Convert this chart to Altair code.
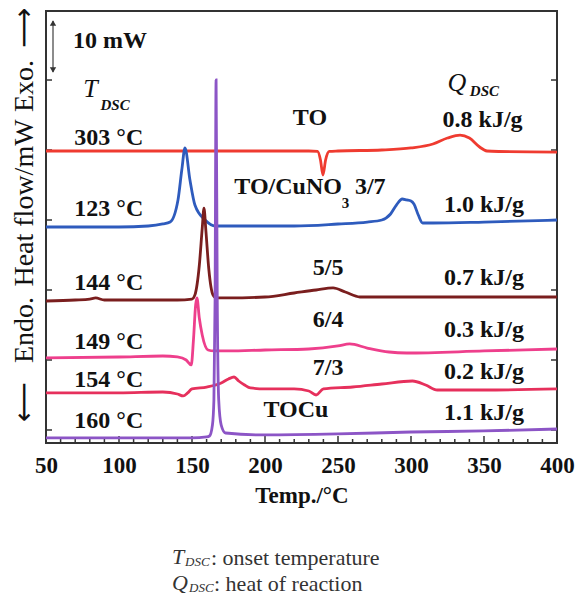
import altair as alt
import pandas as pd

# ---------------- data ----------------
to_T = [50, 100, 150, 200, 230, 236, 238, 239.7, 241.5, 244, 250, 280, 300, 315, 325, 333.6, 340, 347, 352, 360, 400]
to_v = [39.86, 39.86, 39.86, 39.86, 39.86, 39.79, 38.57, 36.43, 38.57, 39.79, 39.86, 40, 40.29, 40.86, 41.71, 42.14, 41.71, 40.43, 39.86, 39.79, 39.71]

b37_T = [50, 100, 120, 130, 135, 140.4, 143, 145.2, 148.6, 152, 159, 166, 180, 220, 250, 270, 280, 286, 290, 294, 297, 300, 302, 305, 308, 315, 350, 400]
b37_v = [29, 29, 29.14, 29.43, 29.71, 32.86, 37.14, 40.29, 35.71, 32.14, 30, 29.14, 29.14, 29.14, 29.43, 29.71, 30, 30.86, 32.14, 33, 32.86, 32.71, 32.29, 30.71, 29.57, 29.57, 29.71, 30]

b55_T = [50, 70, 80, 84, 90, 110, 140, 150, 152, 155, 157, 158.2, 159.5, 161.5, 164.4, 167, 175, 200, 220, 235, 246.6, 255, 265, 300, 350, 400]
b55_v = [18.43, 18.57, 18.71, 18.86, 18.57, 18.57, 18.57, 18.71, 19.3, 23.5, 28.8, 31.71, 28.5, 23.0, 19.3, 18.86, 18.86, 19, 19.57, 20, 20.29, 19.71, 19, 19, 19, 19]

b64_T = [50, 100, 130, 140, 146, 149.5, 151, 152.5, 153.4, 155, 157, 161, 165, 175, 200, 230, 250, 258, 270, 285, 297, 350, 400]
b64_v = [10.29, 10.43, 10.57, 10.43, 10, 9.29, 12.86, 17.86, 18.86, 16.0, 13.57, 11.43, 11.29, 11.29, 11.43, 11.57, 12, 12.29, 11.71, 11.14, 11, 11.29, 11.57]

b73_T = [50, 100, 130, 140, 144, 147, 150, 160, 170, 175, 178.8, 182, 186, 190, 200, 220, 230, 235, 240, 260, 280, 301, 310, 318, 350, 400]
b73_v = [5.29, 5.29, 5.43, 5.14, 4.86, 5.29, 5.86, 6.14, 6.71, 7.29, 7.57, 7, 6.43, 6, 5.86, 5.86, 5.57, 5, 5.86, 6.14, 6.57, 7, 6.43, 5.71, 5.71, 5.86]

tocu_T = [50, 100, 150, 160, 162, 164, 165, 165.8, 166.5, 167.3, 168.3, 170, 173, 200, 250, 300, 350, 400]
tocu_v = [-1.14, -1.14, -1.14, -1.0, -0.86, 0.71, 4.29, 18.57, 50, 18.57, 4.29, 0.71, -0.43, -0.71, -0.57, -0.29, -0.14, 0.14]

series_names = ["TO", "3/7", "5/5", "6/4", "7/3", "TOCu"]
series_colors = ["#ef3b30", "#2e5bbd", "#7a1e1e", "#ee3f8c", "#e6305c", "#8c55c6"]

# labels (main bold text)
lab_text = ["303 °C", "123 °C", "144 °C", "149 °C", "154 °C", "160 °C",
            "TO", "0.8 kJ/g", "1.0 kJ/g", "5/5", "0.7 kJ/g", "6/4", "0.3 kJ/g",
            "7/3", "0.2 kJ/g", "TOCu", "1.1 kJ/g"]
lab_T = [93, 93, 93, 93, 93, 93,
         230.8, 349, 350, 243.2, 350, 243.2, 350,
         243.2, 350, 221.2, 350]
lab_v = [41.7, 31.57, 21.0, 12.57, 7.14, 1.29,
         44.57, 44.29, 32.14, 23.14, 21.71, 15.71, 14.29,
         8.86, 8.29, 2.86, 2.43]

left_text = ["10 mW", "3/7"]
left_T = [68.5, 261.6]
left_v = [55.57, 34.71]

right_text = ["TO/CuNO"]
right_T = [252.7]
right_v = [34.71]

sub_text = ["3"]
sub_T = [255.2]
sub_v = [32.43]

# italic symbols T_DSC, Q_DSC
sym_text = ["T", "Q"]
sym_T = [80.5, 331.5]
sym_v = [48.7, 49.6]
symsub_text = ["DSC", "DSC"]
symsub_T = [97.3, 350.3]
symsub_v = [46.4, 48.4]

x_major = [50, 100, 150, 200, 250, 300, 350, 400]
x_minor = [60, 70, 80, 90, 110, 120, 130, 140, 160, 170, 180, 190, 210, 220, 230, 240,
           260, 270, 280, 290, 310, 320, 330, 340, 360, 370, 380, 390]
y_ticks = [0, 10, 20, 30, 40, 50]

W, H = 511, 432
FONT = "Liberation Serif"

rows = []
for name, Ts, Vs in zip(series_names, [to_T, b37_T, b55_T, b64_T, b73_T, tocu_T],
                        [to_v, b37_v, b55_v, b64_v, b73_v, tocu_v]):
    for i, (t, v) in enumerate(zip(Ts, Vs)):
        rows.append({"series": name, "T": t, "v": v, "i": i})
curves = pd.DataFrame(rows)

xs = alt.Scale(domain=[50, 400], nice=False, zero=False)
ys = alt.Scale(domain=[-1.86, 59.86], nice=False, zero=False)
xaxis = alt.Axis(values=x_major, grid=False, ticks=False, domain=False, labelFlush=False,
                 labelFont=FONT, labelFontSize=23, labelFontWeight="bold",
                 labelColor="#111", labelPadding=11,
                 title="Temp./°C", titleFont=FONT, titleFontSize=23,
                 titleFontWeight="bold", titleColor="#111", titlePadding=7)
X = alt.X("T:Q", scale=xs, axis=xaxis)
Y = alt.Y("v:Q", scale=ys, axis=None)

lines = alt.Chart(curves).mark_line(strokeWidth=2.8, interpolate="monotone").encode(
    x=X, y=Y,
    color=alt.Color("series:N", scale=alt.Scale(domain=series_names, range=series_colors), legend=None),
    order="i:Q",
)


def txt_layer(texts, Ts, Vs, align, size=24, weight="bold", style="normal"):
    df = pd.DataFrame({"t": texts, "T": Ts, "v": Vs})
    return alt.Chart(df).mark_text(
        font=FONT, fontSize=size, fontWeight=weight, fontStyle=style, color="#111",
        align=align, baseline="middle"
    ).encode(x=X, y=Y, text="t:N")


lab_c = txt_layer(lab_text, lab_T, lab_v, "center")
lab_l = txt_layer(left_text, left_T, left_v, "left")
lab_r = txt_layer(right_text, right_T, right_v, "right")
lab_sub = txt_layer(sub_text, sub_T, sub_v, "center", size=15)
sym = txt_layer(sym_text, sym_T, sym_v, "center", size=26, weight="normal", style="italic")
symsub = txt_layer(symsub_text, symsub_T, symsub_v, "center", size=15, style="italic")

# inside ticks
maj = alt.Chart(pd.DataFrame({"T": x_major})).mark_rule(color="#333", strokeWidth=1.5).encode(
    x=X, y=alt.value(H), y2=alt.value(H - 7))
mnr = alt.Chart(pd.DataFrame({"T": x_minor})).mark_rule(color="#333", strokeWidth=1.5).encode(
    x=X, y=alt.value(H), y2=alt.value(H - 4))
ytl = alt.Chart(pd.DataFrame({"v": y_ticks})).mark_rule(color="#333", strokeWidth=1.5).encode(
    y=Y, x=alt.value(0), x2=alt.value(6))
ytr = alt.Chart(pd.DataFrame({"v": y_ticks})).mark_rule(color="#333", strokeWidth=1.5).encode(
    y=Y, x=alt.value(W), x2=alt.value(W - 6))


def vrule(key, xv, y1, y2, color="#111", sw=1.5):
    return alt.Chart(pd.DataFrame({"k": [key]})).mark_rule(color=color, strokeWidth=sw).encode(
        x=alt.value(xv), y=alt.value(y1), y2=alt.value(y2))


def head(key, xv, yv, shape, size, color="#111"):
    return alt.Chart(pd.DataFrame({"k": [key]})).mark_point(
        shape=shape, filled=True, size=size, color=color, opacity=1).encode(
        x=alt.value(xv), y=alt.value(yv))


def ptext(txt, xv, yv, size=22, style="normal", weight="normal", align="left", angle=0,
          color="#333", font=FONT):
    return alt.Chart(pd.DataFrame({"k": [txt]})).mark_text(
        font=font, fontSize=size, fontStyle=style, fontWeight=weight, color=color,
        align=align, baseline="middle", angle=angle, text=txt
    ).encode(x=alt.value(xv), y=alt.value(yv))


deco = [
    vrule("bar", 7, 10, 61, color="#666"),
    head("bar_up", 7, 12, "triangle-up", 40, "#333"),
    head("bar_dn", 7, 59, "triangle-down", 40, "#333"),
    ptext("Exo.", -21, 75, size=28, angle=270, color="#111", align="center"),
    ptext("Heat flow/mW", -21, 192, size=28, angle=270, color="#111", align="center"),
    ptext("Endo.", -21, 319, size=28, angle=270, color="#111", align="center"),
    ptext("\u27f6", -21, 17, size=28, angle=270, color="#111", align="center", font="DejaVu Sans"),
    ptext("\u27f5", -21, 391, size=28, angle=270, color="#111", align="center", font="DejaVu Sans"),
    ptext("T", 126, 546, size=22, style="italic"),
    ptext("DSC", 139, 551, size=13, style="italic"),
    ptext(": onset temperature", 165, 547),
    ptext("Q", 126, 572, size=22, style="italic"),
    ptext("DSC", 143, 577, size=13, style="italic"),
    ptext(" : heat of reaction", 168, 573),
]

chart = alt.layer(
    maj, mnr, ytl, ytr, lines, lab_c, lab_l, lab_r, lab_sub, sym, symsub, *deco
).properties(
    width=W, height=H,
    autosize=alt.AutoSizeParams(type="none"),
    padding={"left": 46, "top": 11, "right": 22, "bottom": 155},
).configure_view(stroke="#333", strokeWidth=2)

chart.save("out.html", embed_options={"renderer": "svg", "actions": False})
